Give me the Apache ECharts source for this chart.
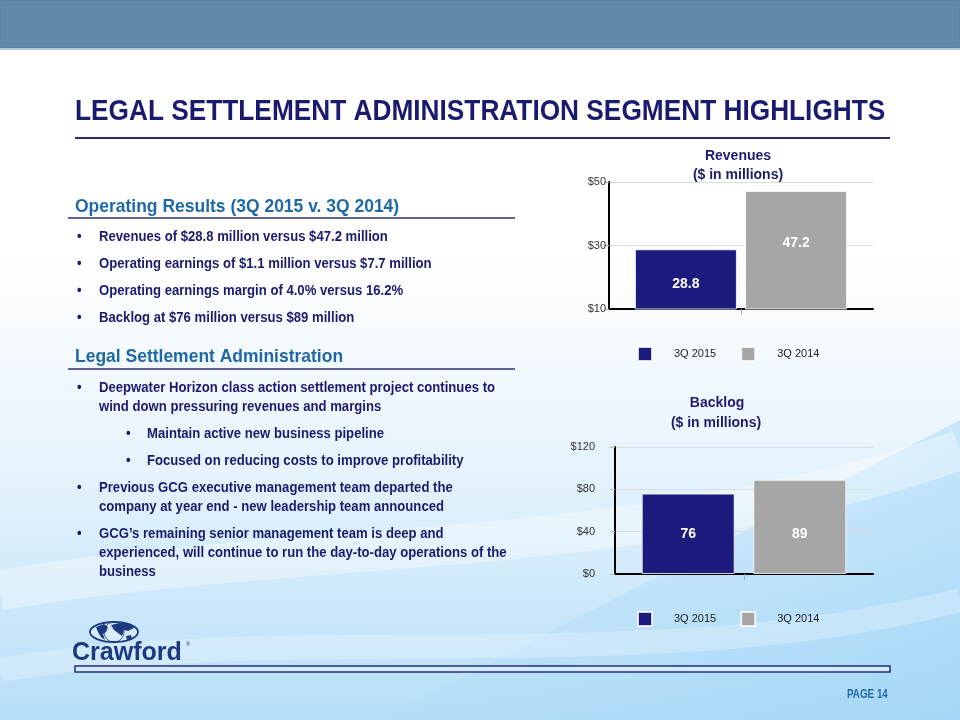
<!DOCTYPE html>
<html>
<head>
<meta charset="utf-8">
<script src="https://cdn.jsdelivr.net/npm/echarts@6/dist/echarts.min.js"></script>
<style>html,body{margin:0;padding:0;background:#fff}#c{width:960px;height:720px}</style>
</head>
<body>
<div id="c"></div>
<script>
// ---- data ----
var seriesNames = ['3Q 2015', '3Q 2014'];
var revenueValues = [28.8, 47.2];
var backlogValues = [76, 89];
var revenueTicks = {min: 10, max: 50, interval: 20};
var backlogTicks = {min: 0, max: 120, interval: 40};
var titleText = 'LEGAL SETTLEMENT ADMINISTRATION SEGMENT HIGHLIGHTS';
var opHeading = 'Operating Results (3Q 2015 v. 3Q 2014)';
var opBullets = [
  'Revenues of $28.8 million versus $47.2 million',
  'Operating earnings of $1.1 million versus $7.7 million',
  'Operating earnings margin of 4.0% versus 16.2%',
  'Backlog at $76 million versus $89 million'
];
var legalHeading = 'Legal Settlement Administration';
var legalLines = [
  {lvl: 1, b: true, t: 'Deepwater Horizon class action settlement project continues to'},
  {lvl: 1, b: false, t: 'wind down pressuring revenues and margins'},
  {lvl: 2, b: true, t: 'Maintain active new business pipeline'},
  {lvl: 2, b: true, t: 'Focused on reducing costs to improve profitability'},
  {lvl: 1, b: true, t: 'Previous GCG executive management team departed the'},
  {lvl: 1, b: false, t: 'company at year end - new leadership team announced'},
  {lvl: 1, b: true, t: 'GCG\u2019s remaining senior management team is deep and'},
  {lvl: 1, b: false, t: 'experienced, will continue to run the day-to-day operations of the'},
  {lvl: 1, b: false, t: 'business'}
];

var SANS = "'Liberation Sans',Arial,sans-serif";
var NAVY = '#1b1b6e';
var BLUE = '#1f68a6';
var BAR1 = '#1c1a7c';
var BAR2 = '#a6a6a6';

var chart = echarts.init(document.getElementById('c'), null, {renderer: 'canvas'});

function ntext(str, x, y, size, color, sx) {
  return {type: 'text', z: 5, x: x, y: y, scaleX: sx,
    style: {text: str, x: 0, y: 0, textAlign: 'left', textVerticalAlign: 'middle',
      font: 'bold ' + size + 'px ' + SANS, fill: color}};
}

var g = [];
// background
g.push({type: 'rect', silent: true, z: -10, shape: {x: 0, y: 0, width: 960, height: 720},
  style: {fill: new echarts.graphic.LinearGradient(0, 0, 0, 1, [
    {offset: 0, color: '#ffffff'}, {offset: 0.35, color: '#ffffff'},
    {offset: 0.65, color: '#e6f3fc'}, {offset: 1, color: '#b6def8'}])}});
g.push({type: 'polygon', silent: true, z: -9, shape: {points: [[380,720],[960,420],[960,720]]},
  style: {fill: new echarts.graphic.LinearGradient(0, 0, 1, 1, [
    {offset: 0, color: 'rgba(160,214,246,0.0)'}, {offset: 1, color: 'rgba(150,210,246,0.55)'}])}});
g.push({type: 'bezierCurve', silent: true, z: -8, shape: {x1: 0, y1: 590, x2: 960, y2: 450, cpx1: 300, cpy1: 540, cpx2: 650, cpy2: 560},
  style: {stroke: 'rgba(255,255,255,0.35)', lineWidth: 40, fill: null}});
g.push({type: 'bezierCurve', silent: true, z: -8, shape: {x1: 0, y1: 670, x2: 960, y2: 600, cpx1: 300, cpy1: 620, cpx2: 650, cpy2: 680},
  style: {stroke: 'rgba(255,255,255,0.25)', lineWidth: 24, fill: null}});
// header bar
g.push({type: 'rect', silent: true, z: 1, shape: {x: 0, y: 0, width: 960, height: 48},
  style: {fill: '#6189a8', stroke: '#577e9c', lineWidth: 1}});
g.push({type: 'rect', silent: true, z: 1, shape: {x: 0, y: 48, width: 960, height: 2},
  style: {fill: '#b3c8d8'}});
// title
g.push(ntext(titleText, 75, 112, 30, NAVY, 0.875));
g.push({type: 'line', z: 5, shape: {x1: 75, y1: 138, x2: 890, y2: 138}, style: {stroke: '#2c2c6e', lineWidth: 2}});
// operating results
g.push(ntext(opHeading, 75, 207, 19, BLUE, 0.92));
g.push({type: 'line', z: 5, shape: {x1: 68, y1: 218, x2: 515, y2: 218}, style: {stroke: '#2c2c6e', lineWidth: 1.5}});
var opY = [237, 264, 291, 318];
opBullets.forEach(function (t, i) {
  g.push(ntext('\u2022', 77, opY[i], 15, NAVY, 0.875));
  g.push(ntext(t, 99, opY[i], 15, NAVY, 0.875));
});
// legal settlement
g.push(ntext(legalHeading, 75, 357, 19, BLUE, 0.92));
g.push({type: 'line', z: 5, shape: {x1: 68, y1: 369, x2: 515, y2: 369}, style: {stroke: '#2c2c6e', lineWidth: 1.5}});
var legalY = [388, 407, 434, 461, 488, 507, 534, 553, 572];
legalLines.forEach(function (l, i) {
  var bx = l.lvl === 1 ? 77 : 126, tx = l.lvl === 1 ? 99 : 147;
  if (l.b) g.push(ntext('\u2022', bx, legalY[i], 15, NAVY, 0.875));
  g.push(ntext(l.t, tx, legalY[i], 15, NAVY, 0.875));
});
// chart titles
g.push({type: 'text', z: 5, style: {text: 'Revenues', x: 738, y: 156, textAlign: 'center', textVerticalAlign: 'middle', font: 'bold 14px ' + SANS, fill: NAVY}});
g.push({type: 'text', z: 5, style: {text: '($ in millions)', x: 738, y: 175, textAlign: 'center', textVerticalAlign: 'middle', font: 'bold 14px ' + SANS, fill: NAVY}});
g.push({type: 'text', z: 5, style: {text: 'Backlog', x: 717, y: 403, textAlign: 'center', textVerticalAlign: 'middle', font: 'bold 14px ' + SANS, fill: NAVY}});
g.push({type: 'text', z: 5, style: {text: '($ in millions)', x: 716, y: 423, textAlign: 'center', textVerticalAlign: 'middle', font: 'bold 14px ' + SANS, fill: NAVY}});
// logo
g.push({type: 'ellipse', z: 5, shape: {cx: 114, cy: 632, rx: 24, ry: 10}, style: {fill: 'rgba(255,255,255,0.3)', stroke: '#1c3a80', lineWidth: 1.8}});
g.push({type: 'ellipse', z: 5, shape: {cx: 114, cy: 632, rx: 10, ry: 10}, style: {fill: null, stroke: '#1c3a80', lineWidth: 0.8}});
g.push({type: 'polygon', z: 6, shape: {points: [[96,627],[104,624],[108,627],[106,632],[103,634],[105,640],[101,637],[98,632]]}, style: {fill: '#1c3a80'}});
g.push({type: 'polygon', z: 6, shape: {points: [[111,625],[120,623],[130,624],[134,628],[128,631],[124,630],[122,636],[118,633],[114,630]]}, style: {fill: '#1c3a80'}});
g.push({type: 'polygon', z: 6, shape: {points: [[126,636],[131,635],[132,639],[127,640]]}, style: {fill: '#1c3a80'}});
g.push({type: 'text', z: 5, style: {text: 'Crawford', x: 72, y: 653, textVerticalAlign: 'middle', font: 'bold 25px ' + SANS, fill: '#1c3a80'}});
g.push({type: 'text', z: 5, style: {text: '\u00ae', x: 186, y: 644, textVerticalAlign: 'middle', font: '6px ' + SANS, fill: '#1c3a80'}});
// bottom bar
g.push({type: 'rect', z: 5, shape: {x: 75, y: 666, width: 815, height: 6}, style: {fill: '#d4eaf8', stroke: '#23307a', lineWidth: 1.5}});
// page number
g.push(ntext('PAGE 14', 847, 695, 12, BLUE, 0.82));

function yAxis(idx, t, margin) {
  return {
    type: 'value', gridIndex: idx, min: t.min, max: t.max, interval: t.interval,
    axisLine: {show: true, lineStyle: {color: '#000', width: 2}},
    axisTick: {show: true, length: 5, lineStyle: {color: '#bbb'}},
    splitLine: {show: true, lineStyle: {color: '#dcdcdc', width: 1}},
    axisLabel: {margin: margin, formatter: '${value}', color: '#333', fontSize: 11, fontFamily: SANS}
  };
}
function xAxis(idx) {
  return {
    type: 'category', gridIndex: idx, data: [''],
    axisLine: {show: true, lineStyle: {color: '#000', width: 2}},
    axisTick: {show: true, alignWithLabel: true, length: 6, lineStyle: {color: '#aaa'}},
    axisLabel: {show: false}
  };
}
function lbl(dy) {
  return {show: true, position: 'inside', offset: [0, dy], color: '#fff', fontWeight: 'bold', fontSize: 14, fontFamily: SANS};
}
var legendText = {fontSize: 11, fontFamily: SANS, color: '#222', padding: [0, 0, 0, 17]};

var option = {
  animation: false,
  backgroundColor: 'transparent',
  graphic: g,
  grid: [
    {left: 609, right: 87, top: 182, height: 127},
    {left: 615, right: 87, top: 447, height: 127}
  ],
  xAxis: [xAxis(0), xAxis(1)],
  yAxis: [yAxis(0, revenueTicks, 3), yAxis(1, backlogTicks, 20)],
  legend: [
    {left: 637, top: 346, padding: 0, itemWidth: 14, itemHeight: 14, itemGap: 24, icon: 'rect', data: seriesNames, textStyle: legendText},
    {left: 637, top: 611, padding: 0, itemWidth: 14, itemHeight: 14, itemGap: 24, icon: 'rect', data: seriesNames, textStyle: legendText}
  ],
  series: [
    {name: seriesNames[0], type: 'bar', xAxisIndex: 0, yAxisIndex: 0, data: [revenueValues[0]], barWidth: 102, barGap: '8%',
      itemStyle: {color: BAR1, borderColor: 'rgba(255,255,255,0.8)', borderWidth: 1}, label: lbl(5)},
    {name: seriesNames[1], type: 'bar', xAxisIndex: 0, yAxisIndex: 0, data: [revenueValues[1]], barWidth: 102, barGap: '8%',
      itemStyle: {color: BAR2, borderColor: 'rgba(255,255,255,0.8)', borderWidth: 1}, label: lbl(-7)},
    {name: seriesNames[0], type: 'bar', xAxisIndex: 1, yAxisIndex: 1, data: [backlogValues[0]], barWidth: 93, barGap: '20%',
      itemStyle: {color: BAR1, borderColor: 'rgba(255,255,255,0.8)', borderWidth: 1}, label: lbl(0)},
    {name: seriesNames[1], type: 'bar', xAxisIndex: 1, yAxisIndex: 1, data: [backlogValues[1]], barWidth: 93, barGap: '20%',
      itemStyle: {color: BAR2, borderColor: 'rgba(255,255,255,0.8)', borderWidth: 1}, label: lbl(7)}
  ]
};
chart.setOption(option);
</script>
</body>
</html>
